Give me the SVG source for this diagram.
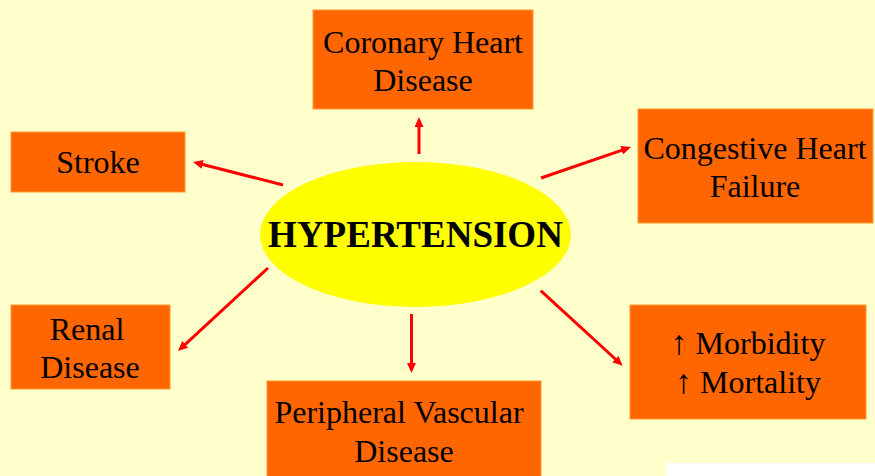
<svg xmlns="http://www.w3.org/2000/svg" width="875" height="476" viewBox="0 0 875 476">
  <defs>
    <style>
      .box { fill: #FF6600; stroke: #FF9933; stroke-width: 1; }
      .lbl { font-family: "Liberation Serif", "Times New Roman", serif; font-size: 32px; fill: #000; text-anchor: middle; }
      .up { font-size: 34px; }
      .conn { stroke: #FF0000; stroke-width: 3; fill: none; marker-end: url(#ah); }
    </style>
    <marker id="ah" markerUnits="userSpaceOnUse" markerWidth="11" markerHeight="10" refX="3" refY="4.5" orient="auto">
      <path d="M0,0 L10,4.5 L0,9 z" fill="#FF0000"/>
    </marker>
  </defs>
  <rect x="0" y="0" width="875" height="476" fill="#FFFFCC"/>
  <rect x="666" y="463" width="209" height="13" fill="#FFFFFF"/>

  <g id="connectors">
    <line class="conn" x1="419" y1="154" x2="419" y2="124"/>
    <line class="conn" x1="283" y1="185" x2="199.8" y2="163.7"/>
    <line class="conn" x1="541" y1="178" x2="624.4" y2="149.3"/>
    <line class="conn" x1="268" y1="268" x2="183.1" y2="346.3"/>
    <line class="conn" x1="411.5" y1="314" x2="411.5" y2="366"/>
    <line class="conn" x1="540.7" y1="290.7" x2="617.5" y2="361"/>
  </g>

  <g id="hypertension">
    <ellipse cx="415.5" cy="234.5" rx="155.5" ry="72.5" fill="#FFFF00"/>
    <text x="415.5" y="247" font-family="Liberation Serif, 'Times New Roman', serif" font-size="37" font-weight="bold" text-anchor="middle" fill="#000">HYPERTENSION</text>
  </g>

  <g id="coronary">
    <rect class="box" x="313" y="10" width="220" height="99"/>
    <text class="lbl" x="423" y="53">Coronary Heart</text>
    <text class="lbl" x="423" y="91">Disease</text>
  </g>

  <g id="congestive">
    <rect class="box" x="638" y="109" width="235" height="114"/>
    <text class="lbl" x="755" y="159">Congestive Heart</text>
    <text class="lbl" x="755" y="197">Failure</text>
  </g>

  <g id="stroke">
    <rect class="box" x="11" y="132" width="174" height="60"/>
    <text class="lbl" x="98" y="173">Stroke</text>
  </g>

  <g id="renal">
    <rect class="box" x="11" y="305" width="159" height="84"/>
    <text class="lbl" x="87" y="340">Renal</text>
    <text class="lbl" x="90" y="378">Disease</text>
  </g>

  <g id="peripheral">
    <rect class="box" x="267" y="381" width="274" height="100"/>
    <text class="lbl" x="399" y="423">Peripheral Vascular</text>
    <text class="lbl" x="404" y="462">Disease</text>
  </g>

  <g id="morbidity">
    <rect class="box" x="630" y="305" width="236" height="114"/>
    <text class="lbl" x="748" y="354"><tspan class="up">↑</tspan> Morbidity</text>
    <text class="lbl" x="748" y="393"><tspan class="up">↑</tspan> Mortality</text>
  </g>
</svg>
